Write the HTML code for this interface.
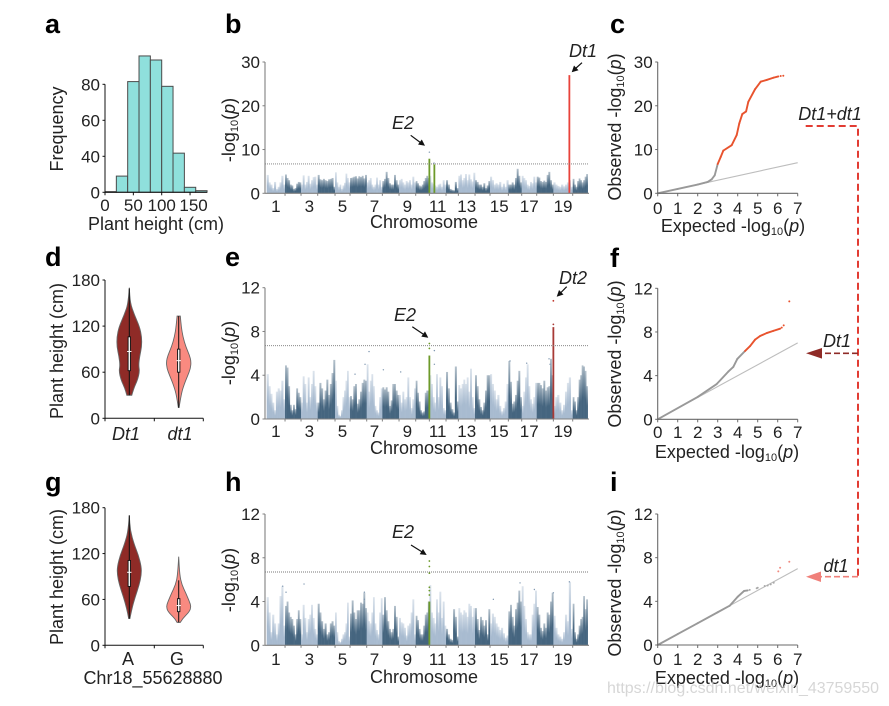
<!DOCTYPE html>
<html lang="en">
<head>
<meta charset="utf-8">
<title>Plant height GWAS figure</title>
<style>
html,body{margin:0;padding:0;background:#fff}
svg{display:block}
text{font-family:"Liberation Sans",sans-serif;fill:#222;font-size:18px}
.tick{font-size:17px}
.panel{font-size:27px;font-weight:bold;fill:#000}
.it{font-style:italic}
.sub{font-size:11px}
</style>
</head>
<body>
<svg id="fig" xmlns="http://www.w3.org/2000/svg" width="889" height="706" viewBox="0 0 889 706">
<defs>
<linearGradient id="gd" x1="0" y1="0" x2="0" y2="1"><stop offset="0" stop-color="#45657f" stop-opacity=".4"/><stop offset=".6" stop-color="#45657f"/></linearGradient>
<linearGradient id="gl" x1="0" y1="0" x2="0" y2="1"><stop offset="0" stop-color="#a8bbd0" stop-opacity=".4"/><stop offset=".6" stop-color="#a8bbd0"/></linearGradient>
</defs>
<rect width="889" height="706" fill="#fff"/>

<text class="panel" x="45" y="33">a</text>
<text class="panel" x="225" y="33">b</text>
<text class="panel" x="610" y="33">c</text>
<text class="panel" x="45" y="266">d</text>
<text class="panel" x="225" y="266">e</text>
<text class="panel" x="610" y="267">f</text>
<text class="panel" x="45" y="491">g</text>
<text class="panel" x="225" y="491">h</text>
<text class="panel" x="610" y="491">i</text>

<g id="a"></g>
<text transform="translate(63,129) rotate(-90)" text-anchor="middle">Frequency</text>
<text x="156" y="230" text-anchor="middle">Plant height (cm)</text>

<g id="b"></g>
<g id="e"></g>
<g id="h"></g>
<text transform="translate(235,130) rotate(-90)" text-anchor="middle">-log<tspan class="sub" dy="3">10</tspan><tspan dy="-3">(</tspan><tspan class="it">p</tspan>)</text>
<text transform="translate(235,353) rotate(-90)" text-anchor="middle">-log<tspan class="sub" dy="3">10</tspan><tspan dy="-3">(</tspan><tspan class="it">p</tspan>)</text>
<text transform="translate(235,580) rotate(-90)" text-anchor="middle">-log<tspan class="sub" dy="3">10</tspan><tspan dy="-3">(</tspan><tspan class="it">p</tspan>)</text>
<text x="424" y="228" text-anchor="middle">Chromosome</text>
<text x="424" y="454" text-anchor="middle">Chromosome</text>
<text x="424" y="683" text-anchor="middle">Chromosome</text>

<g fill="#111">
<text class="it" x="583" y="57" text-anchor="middle">Dt1</text>
<path d="M582,62.7L575,69" stroke="#111" stroke-width="1.2"/>
<path d="M571.7,72.3L574,65.5L578.5,70.2Z"/>
<text class="it" x="403" y="129" text-anchor="middle">E2</text>
<path d="M410.7,135.3L421,143" stroke="#111" stroke-width="1.2"/>
<path d="M425,145.7L418,144.5L421.8,139.5Z"/>
<text class="it" x="573" y="284" text-anchor="middle">Dt2</text>
<path d="M566.7,286.7L560,293.5" stroke="#111" stroke-width="1.2"/>
<path d="M556.7,296.7L559,290L563.5,294.5Z"/>
<text class="it" x="405" y="321" text-anchor="middle">E2</text>
<path d="M412.3,326.7L424.5,335" stroke="#111" stroke-width="1.2"/>
<path d="M428.3,337.7L421.3,336.6L425,331.4Z"/>
<text class="it" x="403" y="538" text-anchor="middle">E2</text>
<path d="M411,545L423,552.5" stroke="#111" stroke-width="1.2"/>
<path d="M426.7,555L419.7,554.2L423,549Z"/>
</g>

<g id="c"></g>
<g id="f"></g>
<g id="i"></g>
<text transform="translate(621,127) rotate(-90)" text-anchor="middle">Observed -log<tspan class="sub" dy="3">10</tspan><tspan dy="-3">(</tspan><tspan class="it">p</tspan>)</text>
<text transform="translate(621,354) rotate(-90)" text-anchor="middle">Observed -log<tspan class="sub" dy="3">10</tspan><tspan dy="-3">(</tspan><tspan class="it">p</tspan>)</text>
<text transform="translate(621,583) rotate(-90)" text-anchor="middle">Observed -log<tspan class="sub" dy="3">10</tspan><tspan dy="-3">(</tspan><tspan class="it">p</tspan>)</text>
<text x="733" y="232" text-anchor="middle">Expected -log<tspan class="sub" dy="3">10</tspan><tspan dy="-3">(</tspan><tspan class="it">p</tspan>)</text>
<text x="727" y="458" text-anchor="middle">Expected -log<tspan class="sub" dy="3">10</tspan><tspan dy="-3">(</tspan><tspan class="it">p</tspan>)</text>
<text x="727" y="684" text-anchor="middle">Expected -log<tspan class="sub" dy="3">10</tspan><tspan dy="-3">(</tspan><tspan class="it">p</tspan>)</text>

<g id="d"></g>
<g id="g"></g>
<text transform="translate(63,351) rotate(-90)" text-anchor="middle">Plant height (cm)</text>
<text transform="translate(63,577) rotate(-90)" text-anchor="middle">Plant height (cm)</text>
<text x="153" y="684" text-anchor="middle">Chr18_55628880</text>

<g>
<text class="it" x="830" y="120" text-anchor="middle">Dt1+dt1</text>
<path d="M805.7,126H858V576" fill="none" stroke="#e23c33" stroke-width="2" stroke-dasharray="7 4"/>
<text class="it" x="837" y="347" text-anchor="middle">Dt1</text>
<path d="M858,353.3H822" fill="none" stroke="#8f2b27" stroke-width="1.6" stroke-dasharray="6 3"/>
<path d="M806,353.3L822,348V358.6Z" fill="#8f2b27"/>
<text class="it" x="836" y="572" text-anchor="middle">dt1</text>
<path d="M858,576.7H820" fill="none" stroke="#f0807a" stroke-width="1.6" stroke-dasharray="6 3"/>
<path d="M806,576.7L821,571.5V582Z" fill="#f0807a"/>
</g>

<text x="607" y="693" textLength="272" lengthAdjust="spacingAndGlyphs" style="fill:#c9c9c9;font-size:16px;opacity:.75">https://blog.csdn.net/weixin_43759550</text>
</svg>

<script>
/* ---------- panel a: histogram ---------- */
const histCounts = [0.5, 12, 82, 101, 98, 78.5, 29, 3.7, 1.2];
const histBinWidth = 20;
const histXTicks = [0, 50, 100, 150];
const histYTickLabels = ['0', '40', '60', '80'];

/* ---------- manhattan plots: chromosome data ---------- */
const chrLengthsMb = [55,48,50,52,45,50,47,50,50,41,50,37,50,45,55,40,45,50,58,45];
const chrTickLabels = [1,3,5,7,9,11,13,15,17,19];
const gwThreshold = 6.7;

const manhattanB = [
[4.2,2.5,2,1.2,2.6,1,1.5,2.5,4,2],[4.3,3.5,3,2,1.8,1,1.2,2.2,2.6,2.5],[2,4.1,2,2.6,4,2.2,3,3.7,3.8,2],
[4.2,3.2,3,3.3,3,2.8,3.2,3.3,3.5,1.5],[4.8,2.5,1.5,2,1,1.8,2.4,4.5,3.5,2.5],[3.5,3.6,3.8,3.9,3.4,3.9,3.7,4,3.4,4.2],
[2.5,3,3.5,2,1.5,2,3.6,2,3,1.5],[2.8,3.3,4.9,3.5,2.3,2,2,4.2,3,2],[3,3.3,2.5,2,2.8,2.5,3,2,3.8,2.5],
[2.8,2.3,1.8,1.6,2,2.8,3.5,4,3.5],[4,2.5,2.2,1.8,1.5,2,2.2,1.5,3,2],[3,2,1,.8,.7,2.6,1.2],
[4,4.3,3,3.5,4.4,3,4.3,3.2,2.7,4.7],[3,2.6,2,2,1.5,2.3,1.2,1.8,2.8],[3.8,3,2,2.3,2,2.6,1.5,2.2,1.5,3],
[2,2,2.5,2,3.5,5.6,4,2.5],[4,3.5,3,2,1.7,2.6,2.3,3.8,2.5],[3.8,3.6,2.8,2.6,2.9,2.6,4.2,4.9,3,2],
[2.5,2,1.7,1.5,2,1.6,2,2.5,3,1.5],[3.3,2,1.5,2.8,3.4,3,2.5,3,3.8,4.4]];
const manhattanE = [
[4.1,3,2.3,1.5,.8,2.5,2.8,2.6,3.5,1.8],[4.9,4.7,3,1.3,.8,1.3,.9,2.8,2.4,2],[1.5,3.9,3.2,1.5,3.8,2,3.2,4.4,3,1.5],
[1.5,3.3,2.8,1.8,2.6,3.6,2.2,3.2,4.2,5.4],[3.5,1.2,.4,.3,.8,2,2.6,3.5,4.4,2],[2.1,1.8,3,3.2,1.4,1.8,2.5,3.3,3.6,3.5],
[5,2.5,3.5,4.1,3,1.2,.8,.6,2,2.8],[2.9,2.7,2.9,2.5,1.2,1.7,3.2,3.2,2.6,2.2],[2.2,1.5,2.5,1.8,2,3.8,2,1,1.8,2.8],
[3.5,2.4,1.6,.8,.6,.7,2.4,2.6,2.6],[4,3.2,2,1.5,4.1,2,3.8,3,1,.8],[4.3,2.8,1.5,.9,.6,4.8,1.6],
[3.1,2.8,3.2,3.6,3.2,3.8,2.5,4.6,2,1],[4,3,1.8,1.1,.8,1.5,2.6,4,4],[4.1,3.2,2.6,1.8,2.2,1.2,.7,1,1.6,3.2],
[5.3,3.4,1.4,1.6,2.2,3.5,4.4,2],[1.2,2.5,3.8,5,3,1.8,1.4,2,3.3],[3.3,3.3,3.1,2.8,3.5,2.6,2.9,3,5.5,4],
[1.2,2,2.2,1.5,.8,1.3,2.5,3.3,3.8,.8],[2,1.6,.8,2,3.6,4,4.9,4.8,4.4,3]];
const manhattanH = [
[4.4,3,1.2,2.8,2,1,2,4.5,5.4,1.8],[3.6,4,3,2.6,2.4,1.8,1,2.4,3.2,2.4],[1,3.7,2.5,1.2,2.4,2.8,3.7,2.5,1.5,1],
[3.8,3,2.2,1.5,2,1,1.2,2,2.2,1.8],[3,1.2,.4,.3,.6,1,1.2,2,3.9,.8],[2.9,4.1,3,2.4,3.2,3.2,3.9,3.8,4.8,3.4],
[3,2.2,2,3,4.4,2,1.4,1,3,4.3],[2.8,4.4,3.2,2.2,1.5,1.2,1.5,3.6,2.6,.8],[2.5,2.1,2,1.6,.9,1.8,2,3,4.2,1],
[2.7,2.3,1.5,1,1,1.8,2.8,3,4],[5.5,3,2.5,2,4.2,3,4.9,2.5,4,1.8],[1.5,1,.6,.5,3.3,2.6,.8],
[3.4,3,2.8,3.2,3,2.6,3.8,3.6,2.6,3.4],[3.4,2.4,1.4,2.6,2.3,1.8,2.3,1,3.3],[2,2.9,2.6,2,1.7,1.4,1.6,1.1,.7,.9],
[3.1,3.7,2.6,1.8,3.3,3.9,5,4],[5.4,3.6,2.4,1.2,1,1,2.8,3.8,5],[3.5,2.8,1.6,1.3,2,1.6,3,2.8,4,4.8],
[2.7,1.6,1,.8,.6,1.2,2.8,2.2,5.8,1.5],[3.8,1.2,.6,1,1.8,2.4,2.6,4.5,3.3,4.2]];

/* isolated SNPs above the mass: genome position (Mb, cumulative), -log10(p) */
const outlierPosB = [488, 502];
const outlierValB = [9.4, 6.9];
const outlierPosE = [307, 295, 350, 402, 265, 503, 503, 730, 780, 847, 850];
const outlierValE = [6.16, 5, 4.5, 4.3, 4.1, 5, 6.25, 5.3, 5.1, 5.5, 5];
const outlierPosH = [48, 112, 58, 680, 760, 803, 860, 908, 293, 293];
const outlierValH = [5.4, 5.6, 4.85, 4.2, 5.7, 5.1, 4.8, 5.8, 4.85, 4.2];

/* highlighted loci: genome position, column top, hits above column */
const lociPosB = [488, 503, 908];
const lociTopB = [7.9, 6.6, 27];
const lociColorB = ['#6d9a2a', '#6d9a2a', '#e8433a'];
const lociPosE = [488, 860];
const lociTopE = [5.8, 8.4];
const lociColorE = ['#6d9a2a', '#a83a36'];
const hitPosE = [488, 488, 860, 860];
const hitValE = [6.45, 6.9, 8.65, 10.8];
const hitColorE = ['#6d9a2a', '#6d9a2a', '#a83a36', '#c0392f'];
const lociPosH = [488];
const lociTopH = [4];
const lociColorH = ['#6d9a2a'];
const hitPosH = [488, 488, 488, 488, 488, 488];
const hitValH = [4.6, 5, 5.3, 6.6, 7.2, 7.7];
const hitColorH = ['#6d9a2a', '#6d9a2a', '#6d9a2a', '#6d9a2a', '#6d9a2a', '#6d9a2a'];

const manhattanYTicksB = [0, 10, 20, 30];
const manhattanYTicks12 = [0, 4, 8, 12];

/* ---------- QQ plots ---------- */
const qqXTicks = [0, 1, 2, 3, 4, 5, 6, 7];
const qqCExpected = [0, 1, 2, 2.5, 2.7, 2.85, 3, 3.15, 3.28, 3.7, 3.95, 4.08, 4.23, 4.42, 4.53, 4.87, 5.15, 5.45, 5.78, 6.03];
const qqCObserved = [0, 1, 2, 2.6, 3.2, 4.1, 6.7, 8.3, 9.75, 11, 13.3, 16, 18.1, 18.7, 20.9, 23.8, 25.5, 25.9, 26.4, 26.7];
const qqCTailExp = [6.15, 6.28];
const qqCTailObs = [26.8, 26.85];
const qqFExpected = [0, 2, 2.95, 3.53, 3.78, 3.98, 4.37, 4.62, 4.87, 5.12, 5.45, 5.78, 6.12];
const qqFObserved = [0, 2.05, 3.23, 4.37, 4.8, 5.53, 6.26, 6.71, 7.3, 7.63, 7.9, 8.1, 8.3];
const qqFTailExp = [6.2, 6.3, 6.58];
const qqFTailObs = [8.4, 8.6, 10.8];
const qqIExpected = [0, 1, 2, 3, 3.6, 4, 4.32, 4.5];
const qqIObserved = [0, 1, 2, 3, 3.6, 4.42, 4.95, 5];
const qqITailExp = [4.6, 4.95, 5, 5.35, 5.5, 5.65, 5.8, 6.03, 6.12, 6.58];
const qqITailObs = [5.05, 5.2, 5.25, 5.4, 5.45, 5.55, 5.7, 6.75, 7.08, 7.63];

/* ---------- violins: height grid (cm) and relative density ---------- */
const violinYTicks = [0, 60, 120, 180];
const vDt1Heights = [170,150,135,119,106,93,80,69,61,50,39,30];
const vDt1Density = [0,.08,.4,.83,1,1,.83,.75,.83,.67,.36,.2];
const vDt1Box = [30, 62, 87, 106, 169];
const vdt1Heights = [133,119,106,93,82,74,65,56,45.5,32.5,14];
const vdt1Density = [.13,.21,.34,.58,.87,1,.95,.74,.47,.21,.03];
const vdt1Box = [14, 60, 75, 90, 133];
const vAHeights = [170,150,131.7,118.6,103,92,79,63.6,48,35];
const vADensity = [0,.08,.4,.72,.97,.97,.8,.48,.21,.05];
const vABox = [35, 77, 95.5, 111, 170];
const vGHeights = [116,92,79,68,57,50.6,44,35,30];
const vGDensity = [0,.08,.26,.58,.87,1,.87,.32,.13];
const vGBox = [30, 44, 52, 61, 85];

/* ---------- helpers ---------- */
const NS = 'http://www.w3.org/2000/svg';
function mk(parent, tag, attrs) {
  const n = document.createElementNS(NS, tag);
  for (const k in attrs) n.setAttribute(k, attrs[k]);
  
  parent.appendChild(n);
  return n;
}
function label(parent, str, x, y, anchor) {
  const t = mk(parent, 'text', {x: x, y: y, 'text-anchor': anchor, 'class': 'tick'});
  
  t.textContent = str;
  return t;
}
function axisLines(g, x0, x1, yBase, yTop, color, w) {
  const ya = mk(g, 'line', {x1: x0, x2: x0, y1: yBase, y2: yTop, stroke: color, 'stroke-width': w});
  
  const xa = mk(g, 'line', {x1: x0, x2: x1, y1: yBase, y2: yBase, stroke: color, 'stroke-width': w});
  
}
function yTick(g, x0, y, str, color) {
  const l = mk(g, 'line', {x1: x0 - 2.5, x2: x0, y1: y, y2: y, stroke: color, 'stroke-width': 1});
  
  label(g, str, x0 - 5, y + 6, 'end');
}
function xTickMark(g, x, yBase, color) {
  const l = mk(g, 'line', {x1: x, x2: x, y1: yBase, y2: yBase + 3, stroke: color, 'stroke-width': 1});
  
}

/* ---------- histogram ---------- */
(function () {
  const g = document.getElementById('a');
  const X = v => 105 + v * 0.567;
  const Y = v => 192.3 - v * 1.35;
  histCounts.forEach((c, i) => {
    const r = mk(g, 'rect', {x: X(i * histBinWidth), y: Y(c), width: X(histBinWidth) - X(0), height: Y(0) - Y(c), fill: '#8fe0dc', stroke: '#4a4a4a', 'stroke-width': 1});
    
  });
  axisLines(g, 105, 207, 192.3, 84.3, '#111', 1);
  histYTickLabels.forEach((s, i) => yTick(g, 105, Y(80 * i / (histYTickLabels.length - 1)), s, '#111'));
  histXTicks.forEach(v => {
    xTickMark(g, X(v), 192.3, '#111');
    label(g, v, X(v) + (v > 100 ? 3.5 : 0), 211, 'middle');
  });
})();

/* ---------- manhattan ---------- */
function manhattan(id, cols, yMax, yBase, yTop, yTicks, outPos, outVal, lociPos, lociTop, lociColor, hitPos, hitVal, hitColor, tickBase) {
  const g = document.getElementById(id);
  const X = mb => 266.7 + mb * (321 / 963);
  const Y = v => yBase - (v / yMax) * (yBase - yTop);
  let cum = 0;
  cols.forEach((vals, c) => {
    const len = chrLengthsMb[c];
    const w = len / vals.length;
    vals.forEach((v, i) => {
      const r = mk(g, 'rect', {x: X(cum + i * w), y: Y(v), width: X(w) - X(0) + 0.25, height: Y(0) - Y(v), fill: c % 2 ? 'url(#gd)' : 'url(#gl)'});
      
    });
    cum += len;
    if (c < cols.length - 1) {
      const bt = mk(g, 'line', {x1: X(cum), x2: X(cum), y1: yBase, y2: yBase + 2.5, stroke: '#808080', 'stroke-width': 1});
      
    }
  });
  outPos.forEach((p, i) => {
    const d = mk(g, 'circle', {cx: X(p), cy: Y(outVal[i]), r: 0.7, fill: '#7f97b0'});
    
  });
  lociPos.forEach((p, i) => {
    const r = mk(g, 'line', {x1: X(p), x2: X(p), y1: Y(0), y2: Y(lociTop[i]), stroke: lociColor[i], 'stroke-width': 1.8});
    
  });
  hitPos.forEach((p, i) => {
    const d = mk(g, 'circle', {cx: X(p), cy: Y(hitVal[i]), r: 0.9, fill: hitColor[i]});
    
  });
  const th = mk(g, 'line', {x1: 265, x2: 589, y1: Y(gwThreshold), y2: Y(gwThreshold), stroke: '#777', 'stroke-width': 0.9, 'stroke-dasharray': '1 1'});
  
  axisLines(g, 265, 589, yBase, yTop, '#808080', 1.1);
  yTicks.forEach(v => yTick(g, 265, Y(v), v, '#808080'));
  chrTickLabels.forEach(n => {
    let s = 0;
    for (let k = 0; k < n - 1; k++) s += chrLengthsMb[k];
    label(g, n, X(s + chrLengthsMb[n - 1] / 2), tickBase, 'middle');
  });
}
manhattan('b', manhattanB, 30, 193.3, 62, manhattanYTicksB, outlierPosB, outlierValB, lociPosB, lociTopB, lociColorB, [], [], [], 212);
manhattan('e', manhattanE, 12, 419, 287.7, manhattanYTicks12, outlierPosE, outlierValE, lociPosE, lociTopE, lociColorE, hitPosE, hitValE, hitColorE, 437);
manhattan('h', manhattanH, 12, 645.3, 514, manhattanYTicks12, outlierPosH, outlierValH, lociPosH, lociTopH, lociColorH, hitPosH, hitValH, hitColorH, 665);

/* ---------- QQ ---------- */
function qq(id, exp, obs, tailExp, tailObs, yMax, yBase, yTop, yTicks, accent, tickBase) {
  const g = document.getElementById(id);
  const X = v => 657.7 + v * 20;
  const Y = v => yBase - (v / yMax) * (yBase - yTop);
  const ref = mk(g, 'line', {x1: X(0), y1: Y(0), x2: X(7), y2: Y(7), stroke: '#bdbdbd', 'stroke-width': 1.1});
  
  for (let i = 1; i < exp.length; i++) {
    const s = mk(g, 'line', {x1: X(exp[i - 1]), y1: Y(obs[i - 1]), x2: X(exp[i]), y2: Y(obs[i]), stroke: obs[i] > gwThreshold ? accent : '#999', 'stroke-width': 1.9, 'stroke-linecap': 'round'});
    
  }
  tailExp.forEach((e, i) => {
    const d = mk(g, 'circle', {cx: X(e), cy: Y(tailObs[i]), r: 1, fill: tailObs[i] > 6.6 ? accent : '#aaa'});
    
  });
  axisLines(g, 657.7, 797.7, yBase, yTop, '#6a6a6a', 1.1);
  yTicks.forEach(v => yTick(g, 657.7, Y(v), v, '#6a6a6a'));
  qqXTicks.forEach(v => {
    xTickMark(g, X(v), yBase, '#6a6a6a');
    label(g, v, X(v), tickBase, 'middle');
  });
}
qq('c', qqCExpected, qqCObserved, qqCTailExp, qqCTailObs, 30, 193.3, 62, manhattanYTicksB, '#e8532e', 214);
qq('f', qqFExpected, qqFObserved, qqFTailExp, qqFTailObs, 12, 419.3, 288.3, manhattanYTicks12, '#e8532e', 438);
qq('i', qqIExpected, qqIObserved, qqITailExp, qqITailObs, 12, 645, 514, manhattanYTicks12, '#f08a80', 665);

/* ---------- violins ---------- */
function smooth(pts) {
  let d = 'M' + pts[0][0] + ',' + pts[0][1];
  for (let i = 1; i < pts.length - 1; i++) {
    const mx = (pts[i][0] + pts[i + 1][0]) / 2, my = (pts[i][1] + pts[i + 1][1]) / 2;
    d += 'Q' + pts[i][0] + ',' + pts[i][1] + ' ' + mx + ',' + my;
  }
  const e = pts[pts.length - 1];
  return d + 'L' + e[0] + ',' + e[1];
}
function violin(g, cx, Y, heights, density, box, fill) {
  const halfMax = 12.4;
  const left = heights.map((h, i) => [cx - density[i] * halfMax, Y(h)]);
  const right = heights.map((h, i) => [cx + density[i] * halfMax, Y(h)]).reverse();
  const body = mk(g, 'path', {d: smooth(left) + smooth(right).replace('M', 'L') + 'Z', fill: fill, stroke: '#666', 'stroke-width': 0.9});
  
  const wh = mk(g, 'line', {x1: cx, x2: cx, y1: Y(box[0]), y2: Y(box[4]), stroke: '#111', 'stroke-width': 1});
  
  const bx = mk(g, 'rect', {x: cx - 1.2, y: Y(box[3]), width: 2.4, height: Y(box[1]) - Y(box[3]), fill: '#f4f4f4', stroke: '#111', 'stroke-width': 0.9});
  
  const md = mk(g, 'line', {x1: cx - 2.2, x2: cx + 2.2, y1: Y(box[2]), y2: Y(box[2]), stroke: '#fff', 'stroke-width': 1});
  
}
function violinAxes(id, yBase, yTop, a, b) {
  const g = document.getElementById(id);
  const Y = v => yBase - (v / 180) * (yBase - yTop);
  violin(g, 129.3, Y, a.h, a.d, a.b, '#8f2b27');
  violin(g, 178.7, Y, b.h, b.d, b.b, '#f98a80');
  axisLines(g, 105, 203.3, yBase, yTop, '#111', 1);
  violinYTicks.forEach(v => yTick(g, 105, Y(v), v, '#111'));
  [105, 154.3, 203.3].forEach(x => xTickMark(g, x, yBase, '#111'));
  return g;
}
const gd = violinAxes('d', 418.3, 280, {h: vDt1Heights, d: vDt1Density, b: vDt1Box}, {h: vdt1Heights, d: vdt1Density, b: vdt1Box});
const gg = violinAxes('g', 645.3, 507.7, {h: vAHeights, d: vADensity, b: vABox}, {h: vGHeights, d: vGDensity, b: vGBox});
const cat1 = label(gd, 'Dt1', 126, 440, 'middle');

cat1.setAttribute('class', 'it');
const cat2 = label(gd, 'dt1', 180, 440, 'middle');

cat2.setAttribute('class', 'it');
const cat3 = label(gg, 'A', 128, 665, 'middle');

cat3.setAttribute('class', '');
const cat4 = label(gg, 'G', 177, 665, 'middle');

cat4.setAttribute('class', '');
</script>
</body>
</html>
